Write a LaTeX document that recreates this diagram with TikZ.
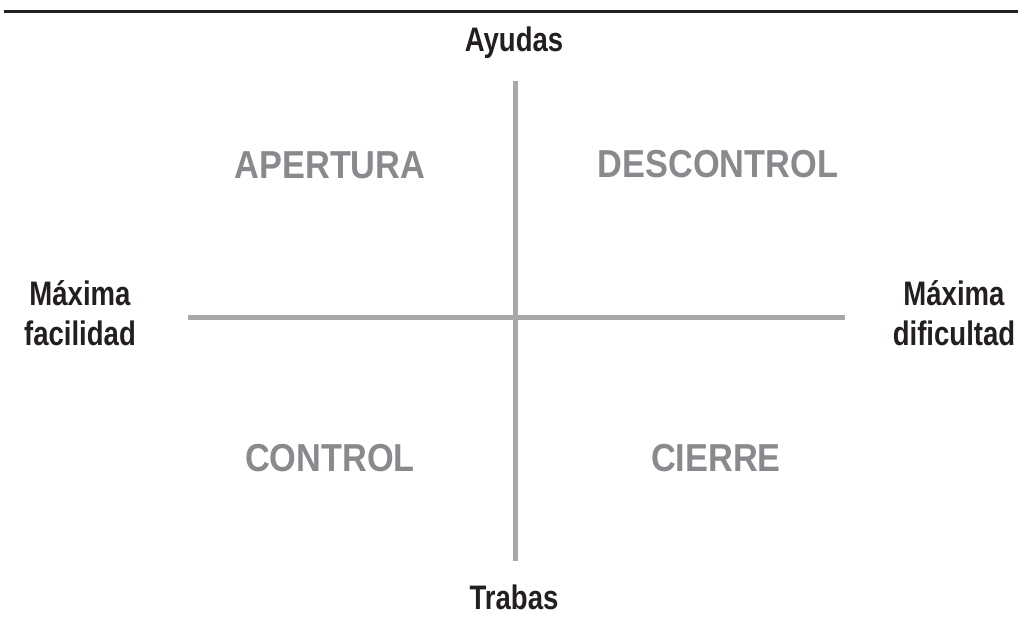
\documentclass[tikz,border=0pt]{standalone}
\usepackage{fontspec}
\setmainfont{Liberation Sans}[FakeStretch=0.88]
\newfontfamily\polefont{Liberation Sans}[FakeStretch=0.81]
\usepackage{xcolor}
\definecolor{axisgray}{HTML}{A7A8AA}
\definecolor{quadgray}{HTML}{898A8D}
\definecolor{inkblack}{HTML}{231F20}

\begin{document}
\begin{tikzpicture}[x=1pt,y=-1pt,
	axis/.style={draw=axisgray, line width=5pt},
	pole/.style={text=inkblack, font=\polefont\fontsize{34}{40}\selectfont\bfseries, align=center, inner sep=0pt},
	quadrant/.style={text=quadgray, font=\fontsize{39}{44}\selectfont\bfseries, inner sep=0pt, anchor=base}]
	\useasboundingbox (0,0) rectangle (1018,621);
	\draw[inkblack, line width=3pt] (4,11) -- (1018,11);
	% ejes
	\coordinate (top) at (515,81);
	\coordinate (bottom) at (515,561);
	\coordinate (left) at (188,317);
	\coordinate (right) at (845,317);
	\draw[axis] (top) -- (bottom);
	\draw[axis] (left) -- (right);
	% polos
	\node[pole, anchor=base] (ayudas) at (514,51) {Ayudas};
	\node[pole, anchor=base] (trabas) at (514,609) {Trabas};
	\node[pole] (facilidad) at (80,313) {Máxima\\facilidad};
	\node[pole] (dificultad) at (954,313) {Máxima\\dificultad};
	% cuadrantes
	\foreach \name/\x/\y/\txt in {apertura/330/178/APERTURA, descontrol/718/177/DESCONTROL, control/330/471/CONTROL, cierre/716/471/CIERRE}{
		\node[quadrant] (\name) at (\x,\y) {\txt};
	}
\end{tikzpicture}
\end{document}
